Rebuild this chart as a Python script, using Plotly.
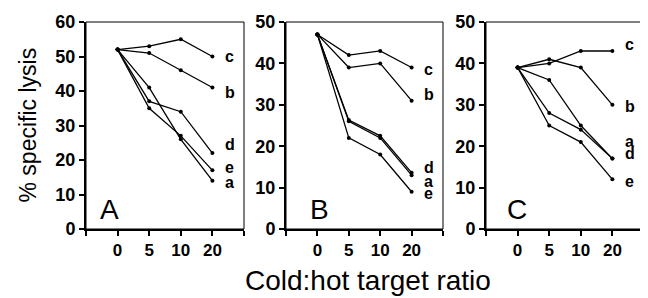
import plotly.graph_objects as go

ratios = ["0", "5", "10", "20"]
series_names = ["a", "b", "c", "d", "e"]

panel_A = {
    "a": [52, 41, 26, 14],
    "b": [52, 51, 46, 41],
    "c": [52, 53, 55, 50],
    "d": [52, 37, 34, 22],
    "e": [52, 35, 27, 17],
}
panel_B = {
    "a": [47, 26, 22, 13],
    "b": [47, 39, 40, 31],
    "c": [47, 42, 43, 39],
    "d": [47, 26.3, 22.5, 13.6],
    "e": [47, 22, 18, 9],
}
panel_C = {
    "a": [39, 36, 25, 17],
    "b": [39, 41, 39, 30],
    "c": [39, 40, 43, 43],
    "d": [39, 28, 24, 17],
    "e": [39, 25, 21, 12],
}
panel_names = ["A", "B", "C"]
panels = [panel_A, panel_B, panel_C]
y_max = [60, 50, 50]

# label placement (visual offsets from endpoint)
label_offsets = [
    {"a": -0.5, "b": -1.5, "c": 0, "d": 2.5, "e": 0.7},
    {"a": -1.5, "b": 1.5, "c": -0.5, "d": 1.2, "e": -0.5},
    {"a": 4.2, "b": -0.5, "c": 1.5, "d": 1.3, "e": -0.5},
]
letter_x = [0.38, 0.7, 0.6]

FONT = "Liberation Sans, Arial, Helvetica, sans-serif"
# page body has an 8px default margin; figure sized to fit the window
W, H = 640, 290
ml, mr, mt, mb = 78, 4, 7, 69
pw = W - ml - mr
domains = [[0, 158 / pw], [200 / pw, 357 / pw], [400 / pw, 1.0]]
ph = H - mt - mb

fig = go.Figure()
shapes = []
annotations = []
for i, (pname, pdata) in enumerate(zip(panel_names, panels)):
    xa = "x" if i == 0 else f"x{i+1}"
    ya = "y" if i == 0 else f"y{i+1}"
    for s in series_names:
        vals = pdata[s]
        fig.add_trace(go.Scatter(
            x=[1, 2, 3, 4], y=vals, mode="lines+markers",
            line=dict(color="black", width=1.3),
            marker=dict(color="black", size=4),
            xaxis=xa, yaxis=ya, showlegend=False,
            hovertext=ratios,
        ))
        annotations.append(dict(
            x=4.55, y=vals[-1] + label_offsets[i][s], xref=xa, yref=ya,
            text=s, showarrow=False, xanchor="center", yanchor="middle",
            font=dict(family=FONT, size=16, color="black", weight="bold"),
        ))
    annotations.append(dict(
        x=letter_x[i], y=0, xref=xa, yref=ya, yshift=2,
        text=pname, showarrow=False, xanchor="left", yanchor="bottom",
        font=dict(family=FONT, size=28, color="black"),
    ))
    shapes.append(dict(type="rect", xref=f"{xa} domain", yref=f"{ya} domain",
                       x0=0, x1=1, y0=0, y1=1, line=dict(color="black", width=1)))
    axx = dict(
        domain=domains[i], range=[0, 5], tickvals=[0, 1, 2, 3, 4, 5],
        ticktext=["", ratios[0], ratios[1], ratios[2], ratios[3], ""],
        ticks="outside", ticklen=5, tickwidth=1.5, tickcolor="black",
        showline=True, linecolor="black", linewidth=2, showgrid=False,
        zeroline=False, anchor=ya, ticklabeloverflow="allow",
        tickfont=dict(family=FONT, size=17, color="black", weight="bold"),
    )
    axy = dict(
        domain=[0, 1], range=[0, y_max[i]], dtick=10,
        ticks="outside", ticklen=5, tickwidth=1.5, tickcolor="black",
        showline=True, linecolor="black", linewidth=2, showgrid=False,
        zeroline=False, anchor=xa, ticklabeloverflow="allow",
        tickfont=dict(family=FONT, size=18, color="black", weight="bold"),
    )
    key = "" if i == 0 else str(i + 1)
    fig.update_layout(**{f"xaxis{key}": axx, f"yaxis{key}": axy})

annotations.append(dict(
    x=(360 - ml) / pw, y=-53 / ph, xref="paper", yref="paper", yanchor="middle",
    text="Cold:hot target ratio", showarrow=False,
    font=dict(family=FONT, size=28, color="black"),
))
annotations.append(dict(
    x=(19 - ml) / pw, y=0.5, xref="paper", yref="paper", textangle=-90,
    text="% specific lysis", showarrow=False, xanchor="center",
    font=dict(family=FONT, size=23, color="black"),
))

fig.update_layout(
    width=W, height=H, margin=dict(l=ml, r=mr, t=mt, b=mb),
    paper_bgcolor="white", plot_bgcolor="white",
    shapes=shapes, annotations=annotations,
)
fig.write_html("out.html")
